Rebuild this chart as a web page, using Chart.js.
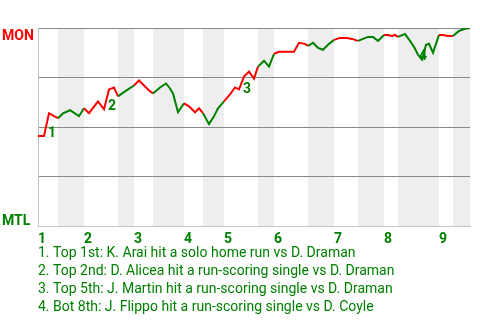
<!DOCTYPE html>
<html><head><meta charset="utf-8">
<script src="https://cdn.jsdelivr.net/npm/chart.js@4.4.1/dist/chart.umd.min.js"></script>
<style>html,body{margin:0;padding:0;background:#fff}#wrap{width:480px;height:320px}</style>
</head><body><div id="wrap"><canvas id="c"></canvas></div>
<script>
// game progress (x) and MON win probability in % (y)
const progress = [0,1.2,2.2,3.2,4.0, 5.0,6.4,8.2,9.2, 10.2,12.0,13.2,14.2,15.2,16.0, 17.4,19.2,
  20.2,22.2,23.0, 24.4,25.6,26.4,27.0,28.0,29.2, 30.2,31.4,32.2,33.0, 34.2,35.2,36.0,37.2,
  38.4,39.4,40.2,41.2,42.2,43.2,44.0, 45.2,46.2,47.2, 48.2,49.2,50.2,51.2,52.2,53.4,54.0,
  55.0,56.0,57.0,58.0,59.2, 60.4,61.8,62.8,64.0, 65.0,66.0,67.0,68.0,69.2, 70.0,70.8,71.4,72.0,
  73.4,74.4,75.2,76.0,76.8,77.6,78.2,79.0,80.2, 81.0,82.0,83.0, 84.2,85.2,86.4];
const monWinPct = [45.5,45.5,57,55.5,54.5, 57,58.5,55.5,59.5, 57,63,59,69,70,65.5, 68,71,
  73.5,68.5,67, 70,72,69.5,67,57.5,62, 60.5,57.5,59.5,57, 51.5,55.5,59.5,63,
  66.5,70,69,75.5,78,74.5,80.5, 83.5,80.5,87, 88,88,88,88,92.5,92,91,
  92.5,90,89,91.5,94, 95,95,94.5,93.5, 94.5,95.5,95.5,93.5,96.5, 96.5,96,96.5,95.5,
  97,93.5,90.5,86.5,84,91.5,92,87.5,96.5, 96.5,96,96, 98.5,99.5,100];
const halfInningStarts = [0,4,9.2,16,19.2,23,29.2,33,37.2,44,47.2,54,59.2,64,69.2,72,80.2,83];
const gameEnd = 86.4;
const inningLabels = ['1','2','3','4','5','6','7','8','9'];
const yTicks = [0,25,50,75,100];
const teamTop = 'MON';
const teamBottom = 'MTL';
const markLabels = ['1','2','3','4'];
const markX = [2.8,14.8,41.8,77];
const markY = [47,60.5,69,85.5];
const notes = [
  '1. Top 1st: K. Arai hit a solo home run vs D. Draman',
  '2. Top 2nd: D. Alicea hit a run-scoring single vs D. Draman',
  '3. Top 5th: J. Martin hit a run-scoring single vs D. Draman',
  '4. Bot 8th: J. Flippo hit a run-scoring single vs D. Coyle'
];

const RED = '#ff0000', GREEN = '#008000', BAND = '#eeeeee';
const FONT = 'Roboto';
const inningStarts = halfInningStarts.filter((v,i)=>i%2===0);

function halfIndex(x){
  let k = 0;
  for (let i=0;i<halfInningStarts.length;i++){ if (x >= halfInningStarts[i]) k = i; }
  return k;
}

const decor = {
  id: 'decor',
  beforeDraw(chart){
    const {ctx, chartArea:a, scales:{x}} = chart;
    ctx.save();
    ctx.fillStyle = BAND;
    for (let i=1;i<halfInningStarts.length;i+=2){
      const x0 = x.getPixelForValue(halfInningStarts[i]);
      const x1 = x.getPixelForValue(i+1<halfInningStarts.length ? halfInningStarts[i+1] : gameEnd);
      ctx.fillRect(x0, a.top, x1-x0, a.bottom-a.top);
    }
    ctx.restore();
  },
  beforeDatasetsDraw(chart){
    const {ctx, scales:{x,y}} = chart;
    ctx.save();
    ctx.font = 'bold 14px ' + FONT;
    ctx.fillStyle = GREEN;
    ctx.textAlign = 'center';
    ctx.textBaseline = 'middle';
    markLabels.forEach((t,i)=>ctx.fillText(t, x.getPixelForValue(markX[i]), y.getPixelForValue(markY[i])));
    ctx.restore();
  },
  afterDraw(chart){
    const {ctx, chartArea:a} = chart;
    ctx.save();
    ctx.font = 'bold 14px ' + FONT;
    ctx.textAlign = 'left';
    ctx.textBaseline = 'alphabetic';
    ctx.fillStyle = RED;
    ctx.fillText(teamTop, 2, a.top + 12);
    ctx.fillStyle = GREEN;
    ctx.fillText(teamBottom, 2, a.bottom - 1);
    ctx.font = '14px ' + FONT;
    notes.forEach((t,i)=>ctx.fillText(t, a.left, a.bottom + 30.5 + 18*i));
    ctx.restore();
  }
};

new Chart(document.getElementById('c'), {
  type: 'line',
  data: {
    datasets: [{
      data: progress.map((v,i)=>({x:v, y:monWinPct[i]})),
      borderWidth: 2,
      pointRadius: 0,
      tension: 0,
      fill: false,
      borderColor: RED,
      segment: {
        borderColor: c => halfIndex((c.p0.parsed.x + c.p1.parsed.x)/2) % 2 === 0 ? RED : GREEN
      }
    }]
  },
  options: {
    responsive: true,
    maintainAspectRatio: false,
    animation: false,
    layout: { padding: { left: 38, top: 28, right: 10, bottom: 67 } },
    plugins: { legend: {display:false}, tooltip: {enabled:false} },
    scales: {
      x: {
        type: 'linear', min: 0, max: gameEnd,
        afterBuildTicks: s => { s.ticks = inningStarts.map(v=>({value:v})); },
        ticks: {
          autoSkip: false, align: 'start', padding: 5, maxRotation: 0,
          color: GREEN, font: {family: FONT, size: 14, weight: 'bold'},
          callback: (v, i) => inningLabels[i]
        },
        grid: { display: false, drawTicks: false },
        border: { display: true, color: '#c4c4c4', width: 1 }
      },
      y: {
        min: 0, max: 100,
        afterBuildTicks: s => { s.ticks = yTicks.map(v=>({value:v})); },
        ticks: { display: false },
        grid: { drawTicks: false, color: c => (c.tick && c.tick.value === 0) ? 'rgba(0,0,0,0)' : '#888888', lineWidth: 1 },
        border: { display: true, color: '#c4c4c4', width: 1 }
      }
    }
  },
  plugins: [decor]
});
</script>
</body></html>
